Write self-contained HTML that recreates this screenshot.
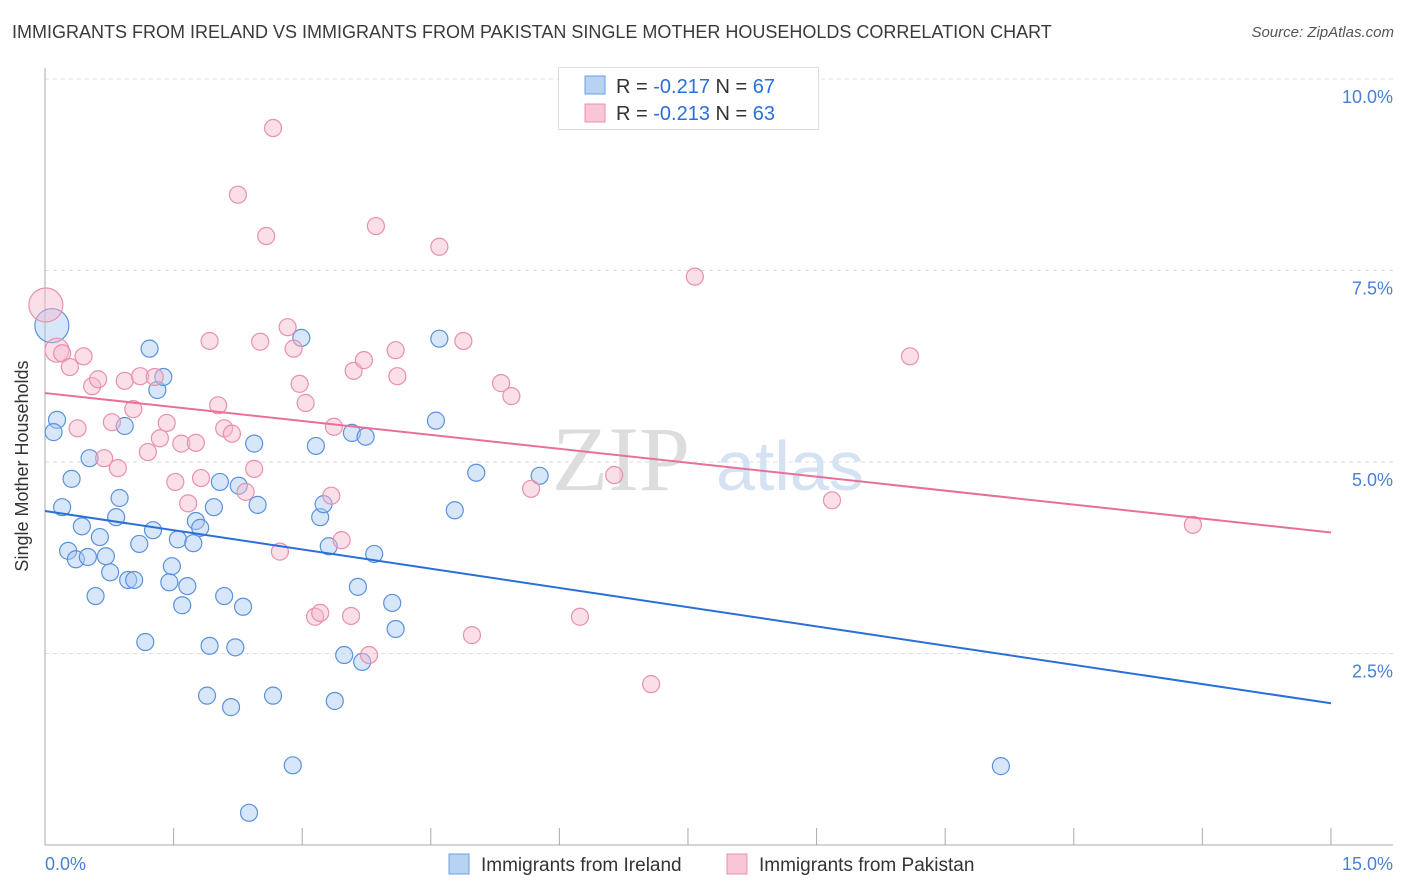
<!DOCTYPE html>
<html><head><meta charset="utf-8"><style>
body{margin:0;background:#fff;font-family:"Liberation Sans",sans-serif;}
#wrap{position:relative;width:1406px;height:892px;overflow:hidden;}
.title{position:absolute;left:12px;top:22px;font-size:18px;color:#3a3a3a;}
.src{position:absolute;right:12px;top:24px;font-size:15px;color:#555;font-style:italic;}
</style></head><body>
<div id="wrap">
<div class="title">IMMIGRANTS FROM IRELAND VS IMMIGRANTS FROM PAKISTAN SINGLE MOTHER HOUSEHOLDS CORRELATION CHART</div>
<div class="src">Source: ZipAtlas.com</div>
<svg id="svg" width="1406" height="892" style="position:absolute;left:0;top:0"></svg>
</div>
<script>
const blueX=[0.08,0.14,0.10,0.20,0.31,0.52,0.43,0.27,0.36,0.50,0.59,0.64,0.71,0.76,0.83,0.87,0.93,0.97,1.04,1.10,1.17,1.22,1.26,1.31,1.38,1.45,1.48,1.55,1.60,1.66,1.73,1.76,1.81,1.89,1.92,1.97,2.04,2.09,2.17,2.22,2.26,2.31,2.44,2.48,2.66,2.89,2.38,2.99,3.16,3.21,3.25,3.31,3.49,3.58,3.65,3.70,3.74,3.84,4.05,4.09,3.38,4.56,4.60,4.78,5.03,5.77,11.15];
const blueY=[6.78,5.55,5.39,4.41,4.78,5.05,4.16,3.84,3.73,3.76,3.25,4.02,3.77,3.56,4.28,4.53,5.47,3.46,3.46,3.93,2.65,6.48,4.11,5.94,6.11,3.43,3.64,3.99,3.13,3.38,3.94,4.23,4.14,1.95,2.60,4.41,4.74,3.25,1.80,2.58,4.69,3.11,5.24,4.44,1.95,1.04,0.42,6.62,5.21,4.28,4.45,3.90,2.48,5.38,3.37,2.39,5.33,3.80,3.16,2.82,1.88,5.54,6.61,4.37,4.86,4.82,1.03];
const pinkX=[0.01,0.14,0.20,0.29,0.45,0.55,0.62,0.38,0.69,0.78,0.85,0.93,1.03,1.11,1.20,1.28,1.34,1.42,1.52,1.59,1.67,1.76,1.82,1.92,2.02,2.09,2.18,2.25,2.34,2.44,2.51,2.58,2.66,2.74,2.83,2.90,2.97,3.04,3.15,3.21,3.34,3.37,3.46,3.57,3.60,3.72,3.78,3.86,4.09,4.11,4.60,4.88,4.98,5.32,5.44,5.67,6.24,6.64,7.07,7.58,9.18,10.09,13.39];
const pinkY=[7.05,6.46,6.42,6.24,6.38,5.99,6.08,5.44,5.05,5.52,4.92,6.06,5.69,6.12,5.13,6.11,5.31,5.51,4.74,5.24,4.46,5.25,4.79,6.58,5.74,5.44,5.37,8.49,4.61,4.91,6.57,7.95,9.36,3.83,6.76,6.48,6.02,5.77,2.98,3.03,4.56,5.46,3.98,2.99,6.19,6.33,2.48,8.08,6.46,6.12,7.81,6.58,2.74,6.03,5.86,4.65,2.98,4.83,2.10,7.42,4.50,6.38,4.18];
const blueTrend=[4.36,1.85];
const pinkTrend=[5.90,4.08];
const yTicks=[2.5,5.0,7.5,10.0];
const xTicks=[0,1.5,3,4.5,6,7.5,9,10.5,12,13.5,15];
const bigBlue=[0], bigPink=[0,1];
const NS="http://www.w3.org/2000/svg";
const svg=document.getElementById('svg');
const X=v=>45+v*85.73, Y=v=>845-v*76.6;
function mk(t,a){const e=document.createElementNS(NS,t);for(const k in a)e.setAttribute(k,a[k]);svg.appendChild(e);return e;}
// gridlines
yTicks.forEach(t=>{
 const l=mk('line',{x1:45,x2:1393,y1:Y(t),y2:Y(t),stroke:'#ddd','stroke-dasharray':'4,4'});
 
 
 const tx=mk('text',{x:1393,y:Y(t)+24,'text-anchor':'end','font-size':18,fill:'#4a7fd4'});tx.textContent=t.toFixed(1)+'%';
 
 
});
mk('line',{x1:45,x2:1393,y1:845,y2:845,stroke:'#aaa'});
mk('line',{x1:45,x2:45,y1:68,y2:845,stroke:'#aaa'});
xTicks.forEach(t=>{const l=mk('line',{x1:X(t),x2:X(t),y1:828,y2:845,stroke:'#aaa'});
 
 });
// watermark
const wm=mk('text',{x:552,y:490,'font-size':92,fill:'#ddd','font-family':'Liberation Serif'});wm.textContent='ZIP';


const wm2=mk('text',{x:716,y:490,'font-size':70,fill:'#d4e2f4'});wm2.textContent='atlas';


function pts(xs,ys,big,fill,stroke,name){
 xs.forEach((x,i)=>{const r=big.includes(i)?(i==0?17:12):8.5;
  const c=mk('circle',{cx:X(x),cy:Y(ys[i]),r:r,fill:fill,'fill-opacity':0.45,stroke:stroke,'stroke-width':1.2});
  
  });
}
pts(blueX,blueY,bigBlue,'#a9c8f2','#5a92dc','point-ireland');
pts(pinkX,pinkY,bigPink,'#f7b9cd','#e890ad','point-pakistan');
const bl=mk('line',{x1:X(0),y1:Y(blueTrend[0]),x2:X(15),y2:Y(blueTrend[1]),stroke:'#2a6fd8','stroke-width':2});


const pl=mk('line',{x1:X(0),y1:Y(pinkTrend[0]),x2:X(15),y2:Y(pinkTrend[1]),stroke:'#e8709a','stroke-width':2});


</script>
<svg width="1406" height="892" style="position:absolute;left:0;top:0;pointer-events:none" font-family="Liberation Sans, sans-serif">
 <g>
  <rect x="558.5" y="67.5" width="260" height="62" fill="#fff" stroke="#ddd"/>
  <rect x="585" y="76" width="20" height="18" fill="#b8d2f4" stroke="#6a9fe0"/>
  <rect x="585" y="104" width="20" height="18" fill="#f9c6d6" stroke="#e890ad"/>
  <text x="616" y="93" font-size="20" fill="#333">R = <tspan fill="#2a6fd8">-0.217</tspan>   N = <tspan fill="#2a6fd8">67</tspan></text>
  <text x="616" y="120" font-size="20" fill="#333">R = <tspan fill="#2a6fd8">-0.213</tspan>   N = <tspan fill="#2a6fd8">63</tspan></text>
 </g>
 <text x="18" y="456" font-size="18" fill="#333" text-anchor="middle" transform="rotate(-90 28 456)">Single Mother Households</text>
 <text x="45" y="870" font-size="18" fill="#4a7fd4">0.0%</text>
 <text x="1393" y="870" font-size="18" fill="#4a7fd4" text-anchor="end">15.0%</text>
 <g><rect x="449" y="854" width="20" height="20" fill="#b8d2f4" stroke="#6a9fe0"/><text x="481" y="871" font-size="19" fill="#333">Immigrants from Ireland</text></g>
 <g><rect x="727" y="854" width="20" height="20" fill="#f9c6d6" stroke="#e890ad"/><text x="759" y="871" font-size="19" fill="#333">Immigrants from Pakistan</text></g>
</svg>
</body></html>
